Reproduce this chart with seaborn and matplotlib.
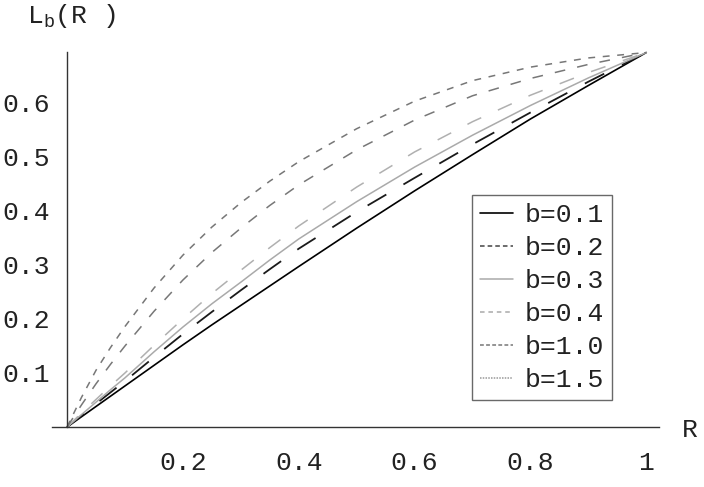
import numpy as np
import pandas as pd
import matplotlib
matplotlib.use("Agg")
import matplotlib.pyplot as plt
from matplotlib.lines import Line2D
from matplotlib.ticker import FixedLocator
import seaborn as sns

# ---- data ----
R = [0.0, 0.025, 0.05, 0.075, 0.1, 0.15, 0.2, 0.25, 0.3, 0.35, 0.4, 0.5, 0.6, 0.7, 0.8, 0.9, 1.0]
L_b01 = [0.0, 0.019, 0.038, 0.057, 0.076, 0.114, 0.152, 0.189, 0.225, 0.261, 0.297, 0.368, 0.437, 0.504, 0.570, 0.632, 0.693]
L_b02 = [0.0, 0.021, 0.043, 0.064, 0.085, 0.129, 0.172, 0.213, 0.253, 0.292, 0.330, 0.398, 0.461, 0.523, 0.582, 0.639, 0.693]
L_b03 = [0.0, 0.023, 0.046, 0.069, 0.091, 0.139, 0.185, 0.228, 0.268, 0.309, 0.348, 0.417, 0.481, 0.540, 0.595, 0.646, 0.693]
L_b04 = [0.0, 0.026, 0.051, 0.076, 0.100, 0.151, 0.200, 0.247, 0.290, 0.332, 0.372, 0.444, 0.509, 0.565, 0.614, 0.656, 0.693]
L_b10 = [0.0, 0.041, 0.080, 0.116, 0.150, 0.214, 0.272, 0.323, 0.368, 0.410, 0.448, 0.513, 0.568, 0.613, 0.645, 0.671, 0.693]
L_b15 = [0.0, 0.055, 0.105, 0.147, 0.186, 0.257, 0.318, 0.370, 0.415, 0.455, 0.491, 0.552, 0.603, 0.641, 0.666, 0.683, 0.693]
labels = ["b=0.1", "b=0.2", "b=0.3", "b=0.4", "b=1.0", "b=1.5"]
x_ticks = [0.2, 0.4, 0.6, 0.8, 1.0]
x_ticklabels = ["0.2", "0.4", "0.6", "0.8", "1"]
y_ticks = [0.1, 0.2, 0.3, 0.4, 0.5, 0.6]
y_ticklabels = ["0.1", "0.2", "0.3", "0.4", "0.5", "0.6"]

sns.set_style("white")
plt.rcParams["font.family"] = ["Liberation Mono", "DejaVu Sans Mono"]
plt.rcParams["mathtext.fontset"] = "custom"
plt.rcParams["mathtext.rm"] = "Liberation Mono"
plt.rcParams["mathtext.it"] = "Liberation Mono"

FS = 19
TXT = "#222222"

fig = plt.figure(figsize=(7.04, 4.87), dpi=100)
ax = fig.add_axes([52 / 704, 60 / 487, 607 / 704, 375 / 487])

series = [L_b01, L_b02, L_b03, L_b04, L_b10, L_b15]
styles = [
    dict(color="#000000", lw=1.2, ls="-"),
    dict(color="#1a1a1a", lw=1.3, ls=(0, (12, 11))),
    dict(color="#aaaaaa", lw=1.1, ls="-"),
    dict(color="#b0b0b0", lw=1.1, ls=(0, (10, 12))),
    dict(color="#777777", lw=1.1, ls=(0, (7, 8))),
    dict(color="#777777", lw=1.1, ls=(0, (4.5, 5))),
]
for vals, lab, st in zip(series, labels, styles):
    df = pd.DataFrame({"R": R, "L": vals})
    sns.lineplot(data=df, x="R", y="L", ax=ax, color=st["color"],
                 linewidth=st["lw"], linestyle=st["ls"], clip_on=False,
                 legend=False)

ax.set_xlim(-0.026, 1.022)
ax.set_ylim(0, 0.694)
ax.set_xlabel("")
ax.set_ylabel("")

for s in ["top", "right"]:
    ax.spines[s].set_visible(False)
ax.spines["left"].set_position(("data", 0))
ax.spines["left"].set_bounds(0, 0.694)
for s in ["left", "bottom"]:
    ax.spines[s].set_color("#333333")
    ax.spines[s].set_linewidth(1.0)

ax.xaxis.set_major_locator(FixedLocator(x_ticks))
ax.set_xticklabels(x_ticklabels)
ax.xaxis.set_minor_locator(FixedLocator([0.05, 0.1, 0.15, 0.25, 0.3, 0.35, 0.45, 0.5, 0.55,
                                         0.65, 0.7, 0.75, 0.85, 0.9, 0.95]))
ax.yaxis.set_major_locator(FixedLocator(y_ticks))
ax.set_yticklabels(y_ticklabels)
ax.yaxis.set_minor_locator(FixedLocator([v / 100 for v in range(2, 70, 2) if v % 10 != 0]))

ax.tick_params(axis="both", which="major", direction="in", length=4.5, width=0.9,
               color="#333333", labelsize=FS, labelcolor=TXT)
ax.tick_params(axis="both", which="minor", direction="in", length=2.5, width=0.8,
               color="#333333")
ax.tick_params(axis="x", which="major", pad=17)
ax.tick_params(axis="y", which="major", pad=12)

fig.text(690 / 704, 1 - 430 / 487, "R", ha="center", va="center", fontsize=FS, color=TXT)
fig.text(27 / 704, 1 - 16 / 487, r"L$_\mathrm{b}$(R )", ha="left", va="center",
         fontsize=FS, color=TXT)

handles = [
    Line2D([], [], color="#000000", lw=1.2, ls="-"),
    Line2D([], [], color="#444444", lw=1.1, ls=(0, (3, 2))),
    Line2D([], [], color="#aaaaaa", lw=1.1, ls="-"),
    Line2D([], [], color="#aaaaaa", lw=1.1, ls=(0, (3, 2.5))),
    Line2D([], [], color="#777777", lw=1.1, ls=(0, (2.5, 1.5))),
    Line2D([], [], color="#999999", lw=1.1, ls=(0, (1, 0.8))),
]
leg = ax.legend(handles, labels, loc="upper left",
                bbox_to_anchor=(472 / 704, 1 - 195 / 487), bbox_transform=fig.transFigure,
                borderaxespad=0, fontsize=FS, frameon=True, fancybox=False, shadow=False,
                handlelength=1.25, handletextpad=0.45, labelspacing=0.34, borderpad=0.3)
leg.get_frame().set_edgecolor("#444444")
leg.get_frame().set_linewidth(1.0)
for t in leg.get_texts():
    t.set_color(TXT)

fig.savefig("out.png", dpi=100, facecolor="white")
